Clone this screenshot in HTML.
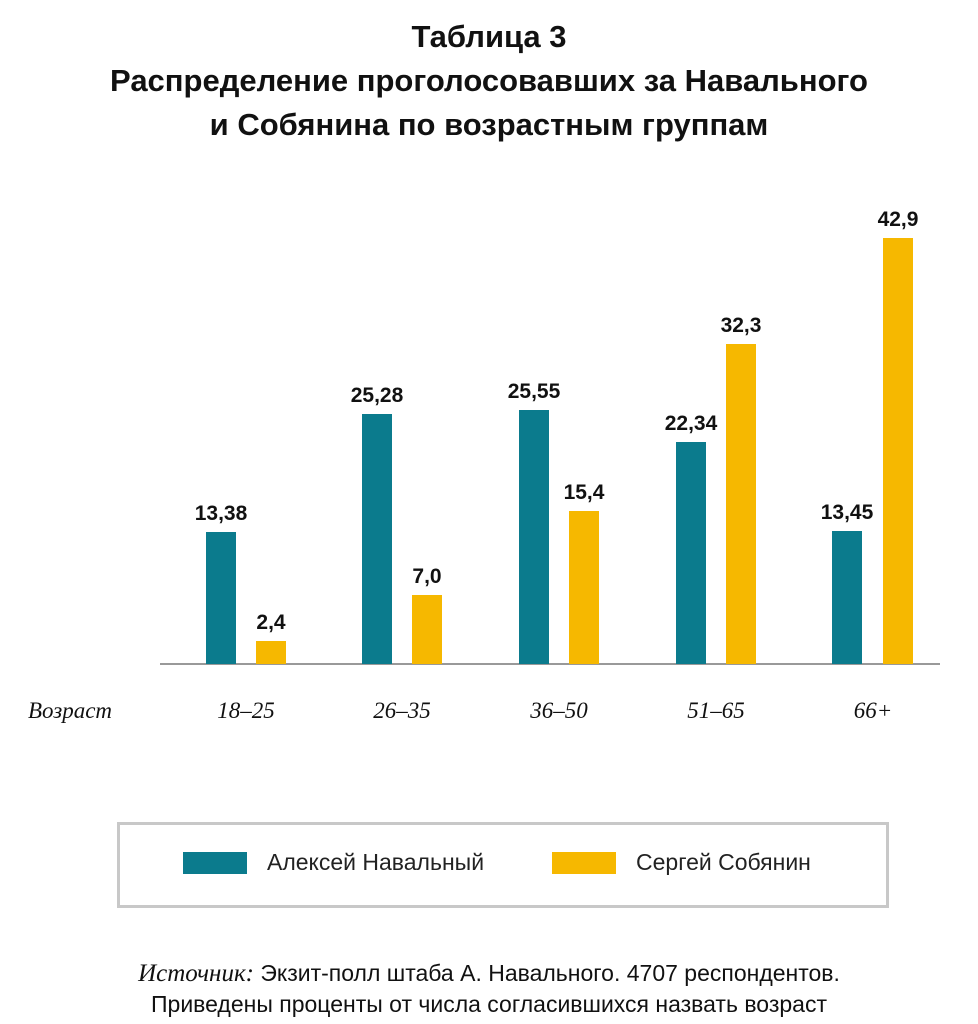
<!DOCTYPE html>
<html><head><meta charset="utf-8"><style>
body{margin:0;background:#fff;width:978px;height:1024px;position:relative;overflow:hidden;font-family:"Liberation Sans","DejaVu Sans",sans-serif;color:#111}
.t{position:absolute;left:0;width:978px;text-align:center;font-weight:bold;font-size:31px;line-height:44px}
.b{position:absolute;width:30px}
.n{background:#0b7b8d}.s{background:#f6b800}
.v{position:absolute;width:100px;text-align:center;font-weight:bold;font-size:21px}
.x{position:absolute;font-family:"Liberation Serif",serif;font-style:italic;font-size:23px;width:140px;text-align:center;top:698px}
</style></head><body>
<div class="t" style="top:15px">Таблица 3<br>Распределение проголосовавших за Навального<br>и Собянина по возрастным группам</div>
<div style="position:absolute;left:160px;top:663px;width:780px;height:2px;background:#999"></div>
<div class="b n" style="left:206px;top:532px;height:132px"></div><div class="v" style="left:171px;top:502px">13,38</div>
<div class="b s" style="left:256px;top:641px;height:23px"></div><div class="v" style="left:221px;top:611px">2,4</div>
<div class="b n" style="left:362px;top:414px;height:250px"></div><div class="v" style="left:327px;top:384px">25,28</div>
<div class="b s" style="left:412px;top:595px;height:69px"></div><div class="v" style="left:377px;top:565px">7,0</div>
<div class="b n" style="left:519px;top:410px;height:254px"></div><div class="v" style="left:484px;top:380px">25,55</div>
<div class="b s" style="left:569px;top:511px;height:153px"></div><div class="v" style="left:534px;top:481px">15,4</div>
<div class="b n" style="left:676px;top:442px;height:222px"></div><div class="v" style="left:641px;top:412px">22,34</div>
<div class="b s" style="left:726px;top:344px;height:320px"></div><div class="v" style="left:691px;top:314px">32,3</div>
<div class="b n" style="left:832px;top:531px;height:133px"></div><div class="v" style="left:797px;top:501px">13,45</div>
<div class="b s" style="left:883px;top:238px;height:426px"></div><div class="v" style="left:848px;top:208px">42,9</div>
<div class="x" style="left:0px">Возраст</div>
<div class="x" style="left:176px">18–25</div>
<div class="x" style="left:332px">26–35</div>
<div class="x" style="left:489px">36–50</div>
<div class="x" style="left:646px">51–65</div>
<div class="x" style="left:803px">66+</div>
<div style="position:absolute;left:117px;top:822px;width:766px;height:80px;border:3px solid #c8c8c8"></div>
<div class="n" style="position:absolute;left:183px;top:852px;width:64px;height:22px"></div>
<div style="position:absolute;left:267px;top:849px;font-size:23px;color:#222">Алексей Навальный</div>
<div class="s" style="position:absolute;left:552px;top:852px;width:64px;height:22px"></div>
<div style="position:absolute;left:636px;top:849px;font-size:23px;color:#222">Сергей Собянин</div>
<div style="position:absolute;left:0;width:978px;top:958px;text-align:center;font-size:23px;line-height:30px"><span style="font-family:'Liberation Serif',serif;font-style:italic;font-size:25px">Источник:</span> Экзит-полл штаба А. Навального. 4707 респондентов.<br>Приведены проценты от числа согласившихся назвать возраст</div>
</body></html>
